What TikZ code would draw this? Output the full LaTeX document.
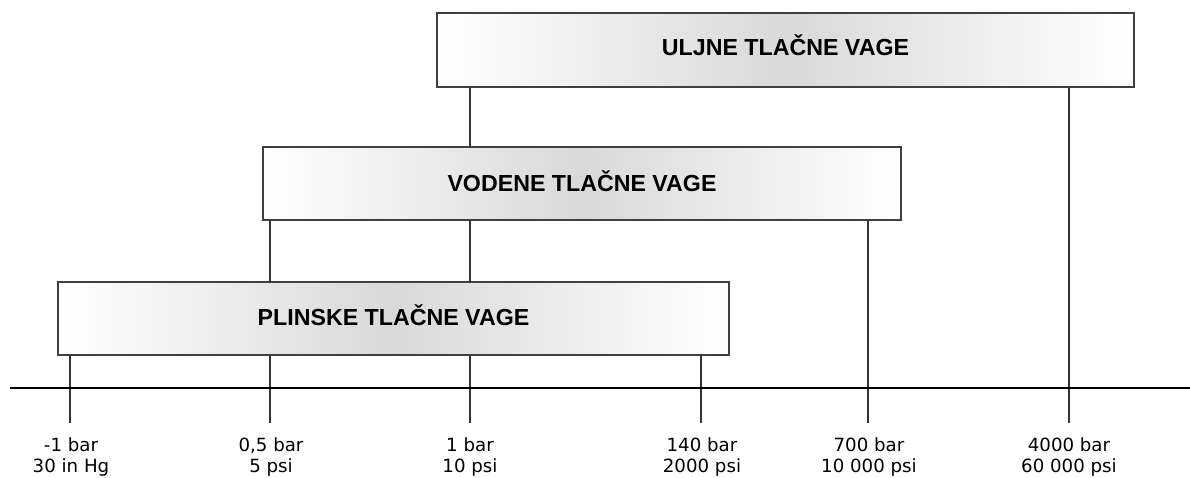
\documentclass[tikz,border=0pt]{standalone}
\usepackage{fontspec}
\setmainfont{DejaVu Sans}
\newfontfamily\boxfont{Liberation Sans}
\begin{document}
\begin{tikzpicture}[x=1pt,y=-1pt,
  rangebox/.style={draw=black!75, line width=1.3pt, left color=white, right color=white,
    middle color=black!15, inner sep=0pt, outer sep=0pt, text height=16.5pt, text depth=0pt,
    font=\boxfont\bfseries\fontsize{23.2}{26}\selectfont},
  tickline/.style={draw=black!80, line width=1.4pt},
  axisline/.style={draw=black, line width=2.6pt},
  ticklabel/.style={align=center, anchor=base, inner sep=0pt,
    font=\fontsize{18.2}{21}\selectfont}]
\useasboundingbox (0,0) rectangle (1190,477);
% boxes
\node[rangebox, minimum width=697pt, minimum height=74pt, text depth=6pt] (ulje) at (785.5,50) {ULJNE TLAČNE VAGE};
\node[rangebox, minimum width=638pt, minimum height=73pt] (vode) at (582,183.5) {VODENE TLAČNE VAGE};
\node[rangebox, minimum width=671pt, minimum height=73pt, text depth=2pt] (plin) at (393.5,318.5) {PLINSKE TLAČNE VAGE};
% axis
\coordinate (axL) at (10,388);
\coordinate (axR) at (1190,388);
% tick ends
\coordinate (b1) at (70,423);
\coordinate (b2) at (270,423);
\coordinate (b3) at (470,423);
\coordinate (b4) at (701,423);
\coordinate (b5) at (868,423);
\coordinate (b6) at (1069,423);
% tick lines
\draw[tickline] (plin.south -| b1) -- (b1);
\draw[tickline] (plin.south -| b2) -- (b2);
\draw[tickline] (plin.south -| b3) -- (b3);
\draw[tickline] (plin.south -| b4) -- (b4);
\draw[tickline] (vode.south -| b5) -- (b5);
\draw[tickline] (ulje.south -| b6) -- (b6);
\draw[tickline] (vode.south -| b2) -- (plin.north -| b2);
\draw[tickline] (vode.south -| b3) -- (plin.north -| b3);
\draw[tickline] (ulje.south -| b3) -- (vode.north -| b3);
\draw[axisline] (axL) -- (axR);
% labels
\node[ticklabel] (l1) at (71,472.5) {-1 bar\\30 in Hg};
\node[ticklabel] (l2) at (271,472.5) {0,5 bar\\5 psi};
\node[ticklabel] (l3) at (470,472.5) {1 bar\\10 psi};
\node[ticklabel] (l4) at (702,472.5) {140 bar\\2000 psi};
\node[ticklabel] (l5) at (869,472.5) {700 bar\\10 000 psi};
\node[ticklabel] (l6) at (1069,472.5) {4000 bar\\60 000 psi};
\end{tikzpicture}
\end{document}
